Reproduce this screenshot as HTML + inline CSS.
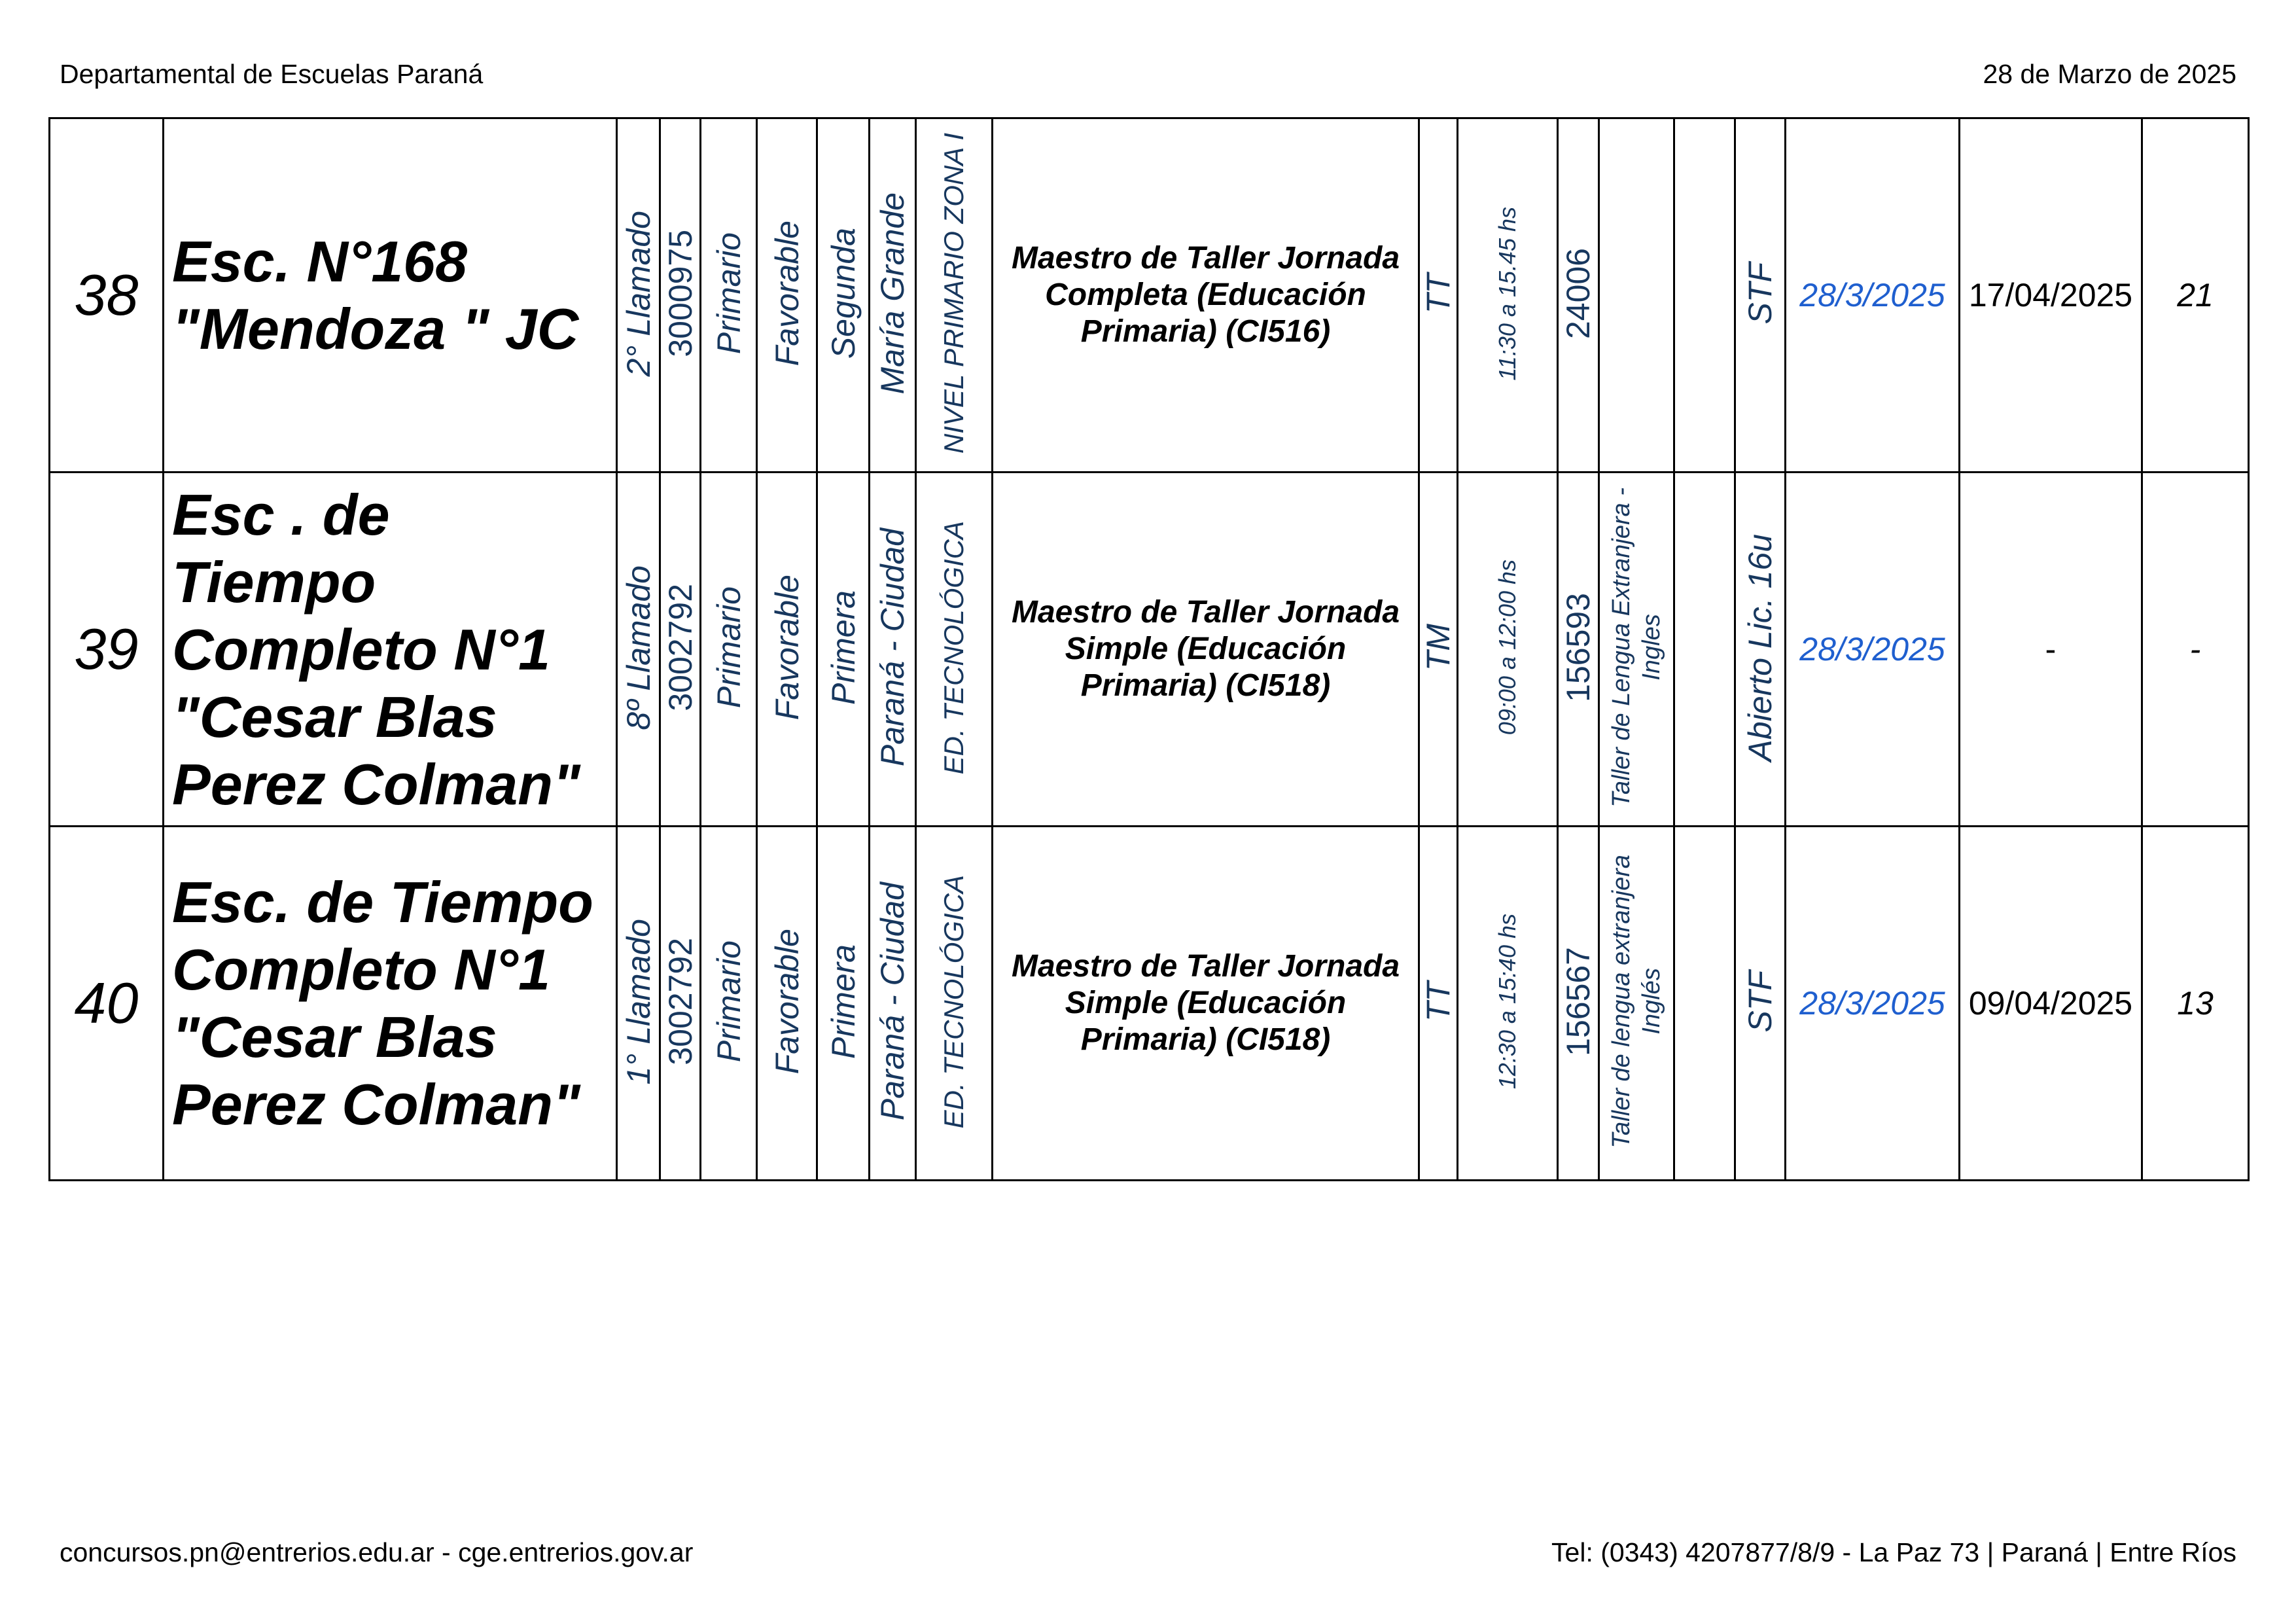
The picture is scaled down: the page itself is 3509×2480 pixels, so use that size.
<!DOCTYPE html>
<html><head><meta charset="utf-8"><style>
html,body{margin:0;padding:0;background:#fff;}
body{width:3509px;height:2480px;position:relative;overflow:hidden;font-family:"Liberation Sans",Arial,sans-serif;}
.hd{position:absolute;font-size:41px;color:#000;line-height:41px;}
table{position:absolute;left:74px;top:179px;width:3361px;border-collapse:collapse;table-layout:fixed;}
td{border:3px solid #000;padding:0;height:538px;text-align:center;vertical-align:middle;overflow:hidden;}
.v{display:inline-block;writing-mode:vertical-rl;transform:rotate(180deg);font-style:italic;color:#17375e;font-size:50px;line-height:56px;white-space:nowrap;}
.s{font-size:42px;}
.t{font-size:36px;}
.tl{font-size:38px;line-height:46px;}
.num{font-size:88px;font-style:italic;}
.sch{text-align:left;padding-left:12px;font-weight:bold;font-style:italic;font-size:88px;line-height:103px;}
.m{font-weight:bold;font-style:italic;font-size:48px;line-height:56px;}
.d{font-style:italic;color:#1f5fcf;font-size:50px;}
.d2{font-size:50px;}
.n{font-size:50px;font-style:italic;}
</style></head><body>
<div class="hd" style="left:91px;top:93px;">Departamental de Escuelas Paraná</div>
<div class="hd" style="right:91px;top:93px;text-align:right;">28 de Marzo de 2025</div>
<table>
<colgroup>
<col style="width:174px"><col style="width:693px"><col style="width:66px"><col style="width:62px"><col style="width:86px"><col style="width:92px"><col style="width:80px"><col style="width:71px"><col style="width:117px"><col style="width:652px"><col style="width:59px"><col style="width:153px"><col style="width:63px"><col style="width:115px"><col style="width:93px"><col style="width:77px"><col style="width:266px"><col style="width:279px"><col style="width:163px">
</colgroup>
<tr>
<td class="num">38</td>
<td class="sch">Esc. N°168<br>"Mendoza " JC</td>
<td><span class="v">2° Llamado</span></td>
<td><span class="v" style="font-style:normal">3000975</span></td>
<td><span class="v">Primario</span></td>
<td><span class="v">Favorable</span></td>
<td><span class="v">Segunda</span></td>
<td><span class="v">María Grande</span></td>
<td><span class="v s">NIVEL PRIMARIO ZONA I</span></td>
<td class="m">Maestro de Taller Jornada<br>Completa (Educación<br>Primaria) (CI516)</td>
<td><span class="v">TT</span></td>
<td><span class="v t">11:30 a 15.45 hs</span></td>
<td><span class="v" style="font-style:normal">24006</span></td>
<td></td>
<td></td>
<td><span class="v">STF</span></td>
<td class="d">28/3/2025</td>
<td class="d2">17/04/2025</td>
<td class="n">21</td>
</tr>
<tr>
<td class="num">39</td>
<td class="sch">Esc . de<br>Tiempo<br>Completo N°1<br>"Cesar Blas<br>Perez Colman"</td>
<td><span class="v">8º Llamado</span></td>
<td><span class="v" style="font-style:normal">3002792</span></td>
<td><span class="v">Primario</span></td>
<td><span class="v">Favorable</span></td>
<td><span class="v">Primera</span></td>
<td><span class="v">Paraná - Ciudad</span></td>
<td><span class="v s">ED. TECNOLÓGICA</span></td>
<td class="m">Maestro de Taller Jornada<br>Simple (Educación<br>Primaria) (CI518)</td>
<td><span class="v">TM</span></td>
<td><span class="v t">09:00 a 12:00 hs</span></td>
<td><span class="v" style="font-style:normal">156593</span></td>
<td><span class="v tl">Taller de Lengua Extranjera -<br>Ingles</span></td>
<td></td>
<td><span class="v">Abierto Lic. 16u</span></td>
<td class="d">28/3/2025</td>
<td class="d2">-</td>
<td class="n">-</td>
</tr>
<tr>
<td class="num">40</td>
<td class="sch">Esc. de Tiempo<br>Completo N°1<br>"Cesar Blas<br>Perez Colman"</td>
<td><span class="v">1° Llamado</span></td>
<td><span class="v" style="font-style:normal">3002792</span></td>
<td><span class="v">Primario</span></td>
<td><span class="v">Favorable</span></td>
<td><span class="v">Primera</span></td>
<td><span class="v">Paraná - Ciudad</span></td>
<td><span class="v s">ED. TECNOLÓGICA</span></td>
<td class="m">Maestro de Taller Jornada<br>Simple (Educación<br>Primaria) (CI518)</td>
<td><span class="v">TT</span></td>
<td><span class="v t">12:30 a 15:40 hs</span></td>
<td><span class="v" style="font-style:normal">156567</span></td>
<td><span class="v tl">Taller de lengua extranjera<br>Inglés</span></td>
<td></td>
<td><span class="v">STF</span></td>
<td class="d">28/3/2025</td>
<td class="d2">09/04/2025</td>
<td class="n">13</td>
</tr>
</table>
<div class="hd" style="left:91px;top:2352px;">concursos.pn@entrerios.edu.ar - cge.entrerios.gov.ar</div>
<div class="hd" style="right:91px;top:2352px;text-align:right;">Tel: (0343) 4207877/8/9 - La Paz 73 | Paraná | Entre Ríos</div>
</body></html>
